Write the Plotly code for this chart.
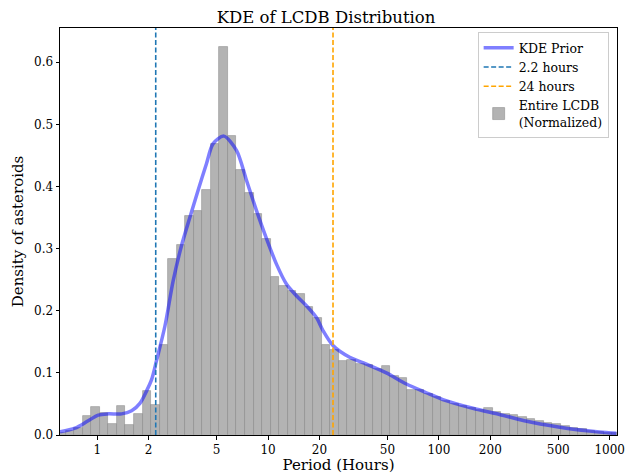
import numpy as np
import plotly.graph_objects as go

# ---------------- data ----------------
# histogram bins (log10 of period in hours), equal width in log space
bin_start_log10 = -0.235
bin_width_log10 = 0.05
hist_density = [
    0.004, 0.007, 0.012, 0.030, 0.045, 0.035, 0.017, 0.047, 0.016, 0.034,
    0.071, 0.048, 0.145, 0.284, 0.306, 0.353, 0.361, 0.394, 0.469, 0.624,
    0.482, 0.426, 0.390, 0.355, 0.316, 0.255, 0.240, 0.232, 0.227, 0.206,
    0.188, 0.145, 0.136, 0.119, 0.121, 0.114, 0.113, 0.107, 0.111, 0.095,
    0.092, 0.073, 0.073, 0.066, 0.061, 0.055, 0.050, 0.046, 0.044, 0.040,
    0.043, 0.037, 0.034, 0.032, 0.029, 0.026, 0.023, 0.020, 0.017, 0.014,
    0.011, 0.009, 0.007, 0.005, 0.004, 0.003,
]

# KDE prior curve (period in hours, density)
kde_period = [0.605, 0.741, 0.886, 1.013, 1.16, 1.389, 1.589, 1.777, 1.945, 2.08,
              2.225, 2.489, 2.782, 3.116, 3.484, 3.896, 4.363, 4.768, 5.508, 6.535,
              7.475, 8.557, 9.79, 11.2, 12.81, 14.66, 16.77, 19.19, 20.97, 23.99,
              30.05, 37.62, 49.25, 64.5, 84.4, 105.5, 158, 226.4, 354.6, 556,
              870, 1094]
kde_density = [0.005, 0.011, 0.023, 0.032, 0.034, 0.034, 0.039, 0.051, 0.071, 0.089,
               0.120, 0.175, 0.248, 0.305, 0.350, 0.394, 0.437, 0.469, 0.481, 0.458,
               0.410, 0.361, 0.316, 0.275, 0.243, 0.224, 0.208, 0.189, 0.168, 0.144,
               0.125, 0.114, 0.100, 0.082, 0.068, 0.057, 0.043, 0.033, 0.020, 0.011,
               0.005, 0.003]

vline_hours = [2.2, 24]
vline_names = ["2.2 hours", "24 hours"]
vline_colors = ["#1f77b4", "#ffa500"]

tick_hours = [1, 2, 5, 10, 20, 50, 100, 200, 500, 1000]
tick_labels = ["1", "2", "5", "10", "20", "50", "100", "200", "500", "1000"]
y_ticks = [0.0, 0.1, 0.2, 0.3, 0.4, 0.5, 0.6]

x_range = [-0.218, 3.0427]
y_range = [0, 0.655]

# ---------------- figure ----------------
n = len(hist_density)
centers = bin_start_log10 + bin_width_log10 * (np.arange(n) + 0.5)

fig = go.Figure()

fig.add_trace(go.Bar(
    x=centers, y=hist_density, width=bin_width_log10,
    marker=dict(color="#b3b3b3", line=dict(color="rgba(120,120,120,0.55)", width=0.8)),
    name="Entire LCDB<br>(Normalized)", legendrank=4,
))

fig.add_trace(go.Scatter(
    x=np.log10(kde_period), y=kde_density, mode="lines",
    line=dict(color="rgba(0,0,255,0.5)", width=3.5, shape="spline", smoothing=0.8),
    name="KDE Prior", legendrank=1,
))

for i, (h, nm, c) in enumerate(zip(vline_hours, vline_names, vline_colors)):
    fig.add_trace(go.Scatter(
        x=[np.log10(h), np.log10(h)], y=y_range, mode="lines",
        line=dict(color=c, width=1.6, dash="5px,2.5px"),
        name=nm, legendrank=2 + i,
    ))

font_family = "DejaVu Serif"
# page has an 8px body margin; figure sized so the plot area lands where the reference has it
fig.update_layout(
    width=636, height=466,
    margin=dict(l=52, r=27, t=20, b=39, autoexpand=False),
    plot_bgcolor="white", paper_bgcolor="white",
    bargap=0,
    font=dict(family=font_family, color="black", size=12),
    title=dict(text="KDE of LCDB Distribution", x=0.5, xanchor="center",
               y=0.98, yanchor="middle", font=dict(size=16.5, family=font_family),
               automargin=False),
    showlegend=True,
    legend=dict(x=0.985, y=0.99, xanchor="right", yanchor="top",
                bgcolor="rgba(255,255,255,0.85)", bordercolor="#cccccc", borderwidth=1,
                font=dict(size=12.5, family=font_family), tracegroupgap=0,
                itemwidth=30),
)
fig.update_xaxes(
    range=x_range, tickvals=list(np.log10(tick_hours)), ticktext=tick_labels,
    automargin=False,
    showgrid=False, zeroline=False, showline=True, linecolor="black", linewidth=1,
    mirror=True, ticks="outside", ticklen=3.5, tickcolor="black",
    tickfont=dict(size=12), title=dict(text="Period (Hours)", font=dict(size=15), standoff=4),
)
fig.update_yaxes(
    range=y_range, tickvals=y_ticks, tickformat=".1f",
    automargin=False,
    showgrid=False, zeroline=False, showline=True, linecolor="black", linewidth=1,
    mirror=True, ticks="outside", ticklen=3.5, tickcolor="black",
    tickfont=dict(size=12), title=dict(text="Density of asteroids", font=dict(size=15), standoff=6),
)

fig.write_html("out.html")
